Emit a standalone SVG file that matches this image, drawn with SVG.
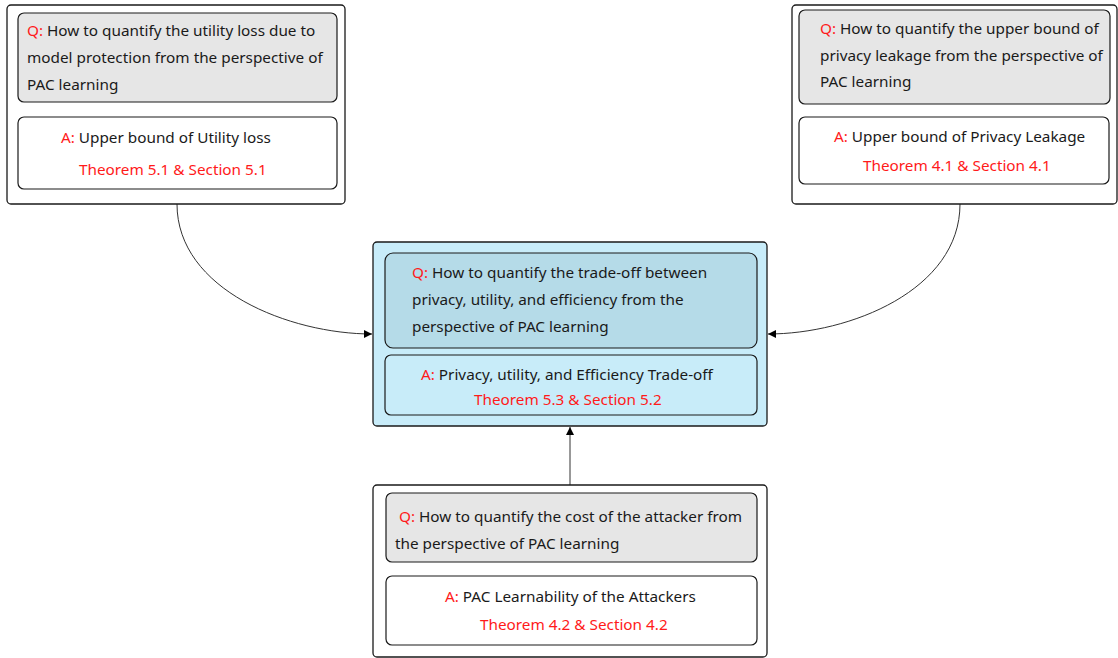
<svg xmlns="http://www.w3.org/2000/svg" width="1118" height="658" viewBox="0 0 1118 658">
<defs>
<style>
.outer{fill:#ffffff;stroke:#1a1a1a;stroke-width:1.3}
.outerb{fill:#c8ecf9;stroke:#1a1a1a;stroke-width:1.3}
.q{fill:#e6e6e6;stroke:#1a1a1a;stroke-width:1.2}
.qb{fill:#b5dbe8;stroke:#1a1a1a;stroke-width:1.2}
.a{fill:#ffffff;stroke:#1a1a1a;stroke-width:1.2}
.ab{fill:#c8ecf9;stroke:#1a1a1a;stroke-width:1.2}
text{font-family:"Noto Sans","Open Sans","Liberation Sans",sans-serif;font-size:15.3px;fill:#1a1a1a}
.r{fill:#ff1a1a}
.conn{fill:none;stroke:#333333;stroke-width:1}
</style>
<marker id="arr" viewBox="0 0 10 10" refX="10" refY="5" markerWidth="8" markerHeight="8" markerUnits="userSpaceOnUse" orient="auto">
<path d="M0,0 L10,5 L0,10 z" fill="#000"/>
</marker>
</defs>
<rect width="1118" height="658" fill="#ffffff"/>
<g id="connectors">
<path class="conn" d="M177,204 C177,290 290,334 372,334" marker-end="url(#arr)"/>
<path class="conn" d="M960,204 C960,290 850,334 768,334" marker-end="url(#arr)"/>
<path class="conn" d="M570,485 L570,427" marker-end="url(#arr)"/>
</g>
<g id="node-utility">
<rect class="outer" x="7" y="5" width="338" height="199" rx="4"/>
<rect class="q" x="18" y="13" width="319" height="89" rx="6"/>
<text x="27" y="36"><tspan class="r">Q:</tspan> How to quantify the utility loss due to</text>
<text x="27" y="63">model protection from the perspective of</text>
<text x="27" y="90">PAC learning</text>
<rect class="a" x="18" y="117" width="319" height="72" rx="6"/>
<text x="61" y="143"><tspan class="r">A:</tspan> Upper bound of Utility loss</text>
<text x="79" y="175" class="r">Theorem 5.1 &amp; Section 5.1</text>
</g>
<g id="node-privacy">
<rect class="outer" x="792" y="5" width="325" height="199" rx="4"/>
<rect class="q" x="799" y="10" width="311" height="94" rx="6"/>
<text x="820" y="34"><tspan class="r">Q:</tspan> How to quantify the upper bound of</text>
<text x="820" y="61">privacy leakage from the perspective of</text>
<text x="820" y="87">PAC learning</text>
<rect class="a" x="799" y="117" width="310" height="67" rx="6"/>
<text x="834" y="142"><tspan class="r">A:</tspan> Upper bound of Privacy Leakage</text>
<text x="863" y="171" class="r">Theorem 4.1 &amp; Section 4.1</text>
</g>
<g id="node-tradeoff">
<rect class="outerb" x="373" y="242" width="394" height="184" rx="4"/>
<rect class="qb" x="385" y="253" width="372" height="95" rx="8"/>
<text x="412" y="278"><tspan class="r">Q:</tspan> How to quantify the trade-off between</text>
<text x="412" y="305">privacy, utility, and efficiency from the</text>
<text x="412" y="332">perspective of PAC learning</text>
<rect class="ab" x="385" y="355" width="372" height="60" rx="6"/>
<text x="421" y="380"><tspan class="r">A:</tspan> Privacy, utility, and Efficiency Trade-off</text>
<text x="474" y="405" class="r">Theorem 5.3 &amp; Section 5.2</text>
</g>
<g id="node-attacker">
<rect class="outer" x="373" y="485" width="394" height="172" rx="4"/>
<rect class="q" x="386" y="493" width="371" height="69" rx="6"/>
<text x="399" y="522"><tspan class="r">Q:</tspan> How to quantify the cost of the attacker from</text>
<text x="395" y="549">the perspective of PAC learning</text>
<rect class="a" x="386" y="576" width="371" height="69" rx="6"/>
<text x="445" y="602"><tspan class="r">A:</tspan> PAC Learnability of the Attackers</text>
<text x="480" y="630" class="r">Theorem 4.2 &amp; Section 4.2</text>
</g>
</svg>
